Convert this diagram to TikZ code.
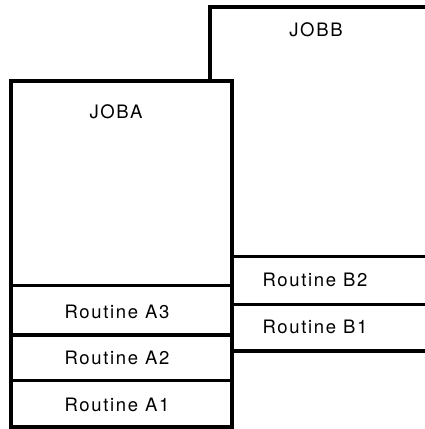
\documentclass[tikz,border=0pt]{standalone}
\usepackage{fontspec}
\setmainfont{TeX Gyre Heros}[LetterSpace=9]
\begin{document}
\begin{tikzpicture}[x=1pt,y=-1pt,
  wall/.style={line width=3.2pt,line cap=rect},
  lbl/.style={font=\fontsize{18.5}{20}\selectfont,inner sep=0pt,anchor=center}]
\useasboundingbox (0,0) rectangle (425,429);
% JOBB outline
\coordinate (bA) at (210,81);
\coordinate (bB) at (210,7);
\coordinate (bC) at (425,7);
\draw[wall] (bA) -- (bB) -- (bC);
% JOBA box
\coordinate (aTL) at (11,81);
\coordinate (aBR) at (232,427);
\draw[wall] (aTL) rectangle (aBR);
\coordinate (d1l) at (11,285.7); \coordinate (d1r) at (232,285.7);
\coordinate (d2l) at (11,335);   \coordinate (d2r) at (232,335);
\coordinate (d3l) at (11,380.7); \coordinate (d3r) at (232,380.7);
\draw[wall] (d1l) -- (d1r);
\draw[wall] (d2l) -- (d2r);
\draw[wall] (d3l) -- (d3r);
% B routine lines
\coordinate (e1l) at (232,256.3); \coordinate (e1r) at (425,256.3);
\coordinate (e2l) at (232,304.3); \coordinate (e2r) at (425,304.3);
\coordinate (e3l) at (232,351);   \coordinate (e3r) at (425,351);
\draw[wall] (e1l) -- (e1r);
\draw[wall] (e2l) -- (e2r);
\draw[wall] (e3l) -- (e3r);
% labels
\node[lbl] (joba) at (116,111.5) {JOBA};
\node[lbl] (jobb) at (316,30) {JOBB};
\node[lbl] (ra3) at (117,311.5) {Routine A3};
\node[lbl] (ra2) at (117,358) {Routine A2};
\node[lbl] (ra1) at (117,404.5) {Routine A1};
\node[lbl] (rb2) at (315,280) {Routine B2};
\node[lbl] (rb1) at (315,326.5) {Routine B1};
\end{tikzpicture}
\end{document}
